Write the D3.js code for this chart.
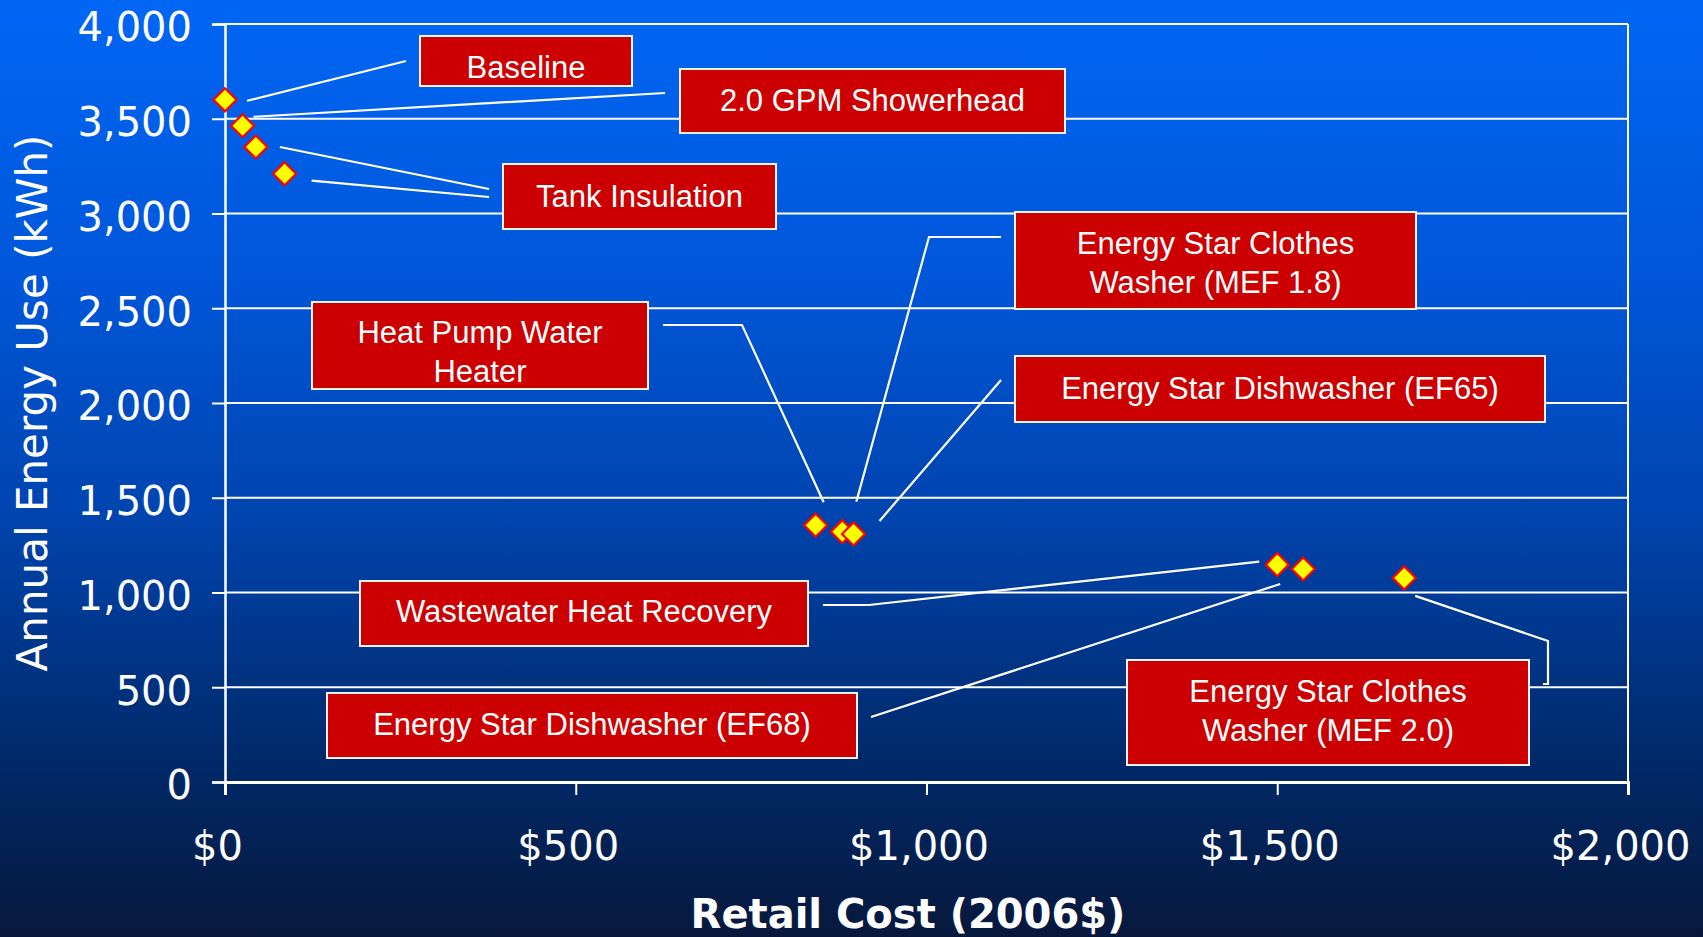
<!DOCTYPE html>
<html>
<head>
<meta charset="utf-8">
<script src="https://cdn.jsdelivr.net/npm/d3@7"></script>
<style>
  html, body { margin: 0; padding: 0; background: #061838; }
  svg { display: block; }
</style>
</head>
<body>
<svg id="chart" width="1703" height="937"></svg>
<script>
// ---- data: retail cost vs. annual energy use of water-heating measures ----
const costs     = [0, 25, 44, 85, 842, 880, 896, 1500, 1537, 1681];
const energyUse = [3600, 3463, 3351, 3210, 1355, 1321, 1309, 1147, 1124, 1077];
const measureNames = [
  "Baseline", "2.0 GPM Showerhead", "Tank Insulation", "Tank Insulation",
  "Heat Pump Water Heater", "Energy Star Clothes Washer (MEF 1.8)",
  "Energy Star Dishwasher (EF65)", "Wastewater Heat Recovery",
  "Energy Star Dishwasher (EF68)", "Energy Star Clothes Washer (MEF 2.0)"
];
const xTickValues = [0, 500, 1000, 1500, 2000];
const yTickValues = [0, 500, 1000, 1500, 2000, 2500, 3000, 3500, 4000];
const xTitle = "Retail Cost (2006$)";
const yTitle = "Annual Energy Use (kWh)";

// callout text, one entry per box
const calloutLines = [
  ["Baseline"],
  ["2.0 GPM Showerhead"],
  ["Tank Insulation"],
  ["Energy Star Clothes", "Washer (MEF 1.8)"],
  ["Heat Pump Water", "Heater"],
  ["Energy Star Dishwasher (EF65)"],
  ["Wastewater Heat Recovery"],
  ["Energy Star Dishwasher (EF68)"],
  ["Energy Star Clothes", "Washer (MEF 2.0)"]
];

// ---- layout ----
const W = 1703, H = 937;
const plot = { left: 225, right: 1628, top: 24, bottom: 782 };

// callout boxes [x0, y0, x1, y1], text shift, and leader lines
// (fixed elbow points, ending next to the data point it names)
const calloutLayout = [
  { box: [420, 36, 632, 86],    shift: 6,  leaders: [{ via: [[406, 61]], to: 0, off: [22, 1] }] },
  { box: [680, 69, 1065, 133],  shift: -1, leaders: [{ via: [[665, 93]], to: 1, off: [11, -9] }] },
  { box: [503, 164, 776, 229],  shift: -1, leaders: [{ via: [[489, 189]], to: 2, off: [24, 0] },
                                                    { via: [[489, 197]], to: 3, off: [27, 7] }] },
  { box: [1015, 212, 1416, 309], shift: 2, leaders: [{ via: [[1001, 237], [929, 237]], to: 5, off: [14, -30] }] },
  { box: [312, 302, 648, 389],  shift: 6,  leaders: [{ via: [[663, 325], [742, 325]], to: 4, off: [8, -23] }] },
  { box: [1015, 356, 1545, 422], shift: -1, leaders: [{ via: [[1001, 380]], to: 6, off: [26, -13] }] },
  { box: [360, 581, 808, 646],  shift: -3, leaders: [{ via: [[823, 605], [869, 605]], to: 7, off: [-18, -3] }] },
  { box: [327, 693, 857, 758],  shift: -2, leaders: [{ via: [[871, 717]], to: 8, off: [-23, 15] }] },
  { box: [1127, 660, 1529, 765], shift: -2, leaders: [{ via: [[1543, 684], [1548, 684], [1548, 641]], to: 9, off: [11, 18] }] }
];

const svg = d3.select("#chart");

// background gradient
const defs = svg.append("defs");
const grad = defs.append("linearGradient")
  .attr("id", "bg").attr("x1", 0).attr("y1", 0).attr("x2", 0).attr("y2", 1);
[[0, "#0066f4"], [0.3, "#0056d8"], [0.55, "#0044ae"], [0.8, "#002a6c"], [1, "#07183c"]]
  .forEach(([o, c]) => grad.append("stop").attr("offset", o).attr("stop-color", c));
svg.append("rect").attr("width", W).attr("height", H).attr("fill", "url(#bg)");

const x = d3.scaleLinear().domain([0, 2000]).range([plot.left, plot.right]);
const y = d3.scaleLinear().domain([0, 4000]).range([plot.bottom, plot.top]);

// horizontal gridlines
svg.append("g")
  .selectAll("line").data(yTickValues.filter(v => v > 0)).join("line")
  .attr("x1", plot.left).attr("x2", plot.right)
  .attr("y1", d => y(d)).attr("y2", d => y(d))
  .attr("stroke", "#ffffff").attr("stroke-width", 2);

// right border of plot area
svg.append("line")
  .attr("x1", plot.right).attr("x2", plot.right)
  .attr("y1", plot.top).attr("y2", plot.bottom)
  .attr("stroke", "#ffffff").attr("stroke-width", 2);

// y axis
const yAxis = svg.append("g")
  .attr("transform", `translate(${plot.left},0)`)
  .call(d3.axisLeft(y).tickValues(yTickValues).tickFormat(d3.format(",")).tickSize(13).tickPadding(20));
yAxis.select(".domain").attr("stroke", "#ffffff").attr("stroke-width", 2.5);
yAxis.selectAll(".tick line").attr("stroke", "#ffffff").attr("stroke-width", 2);
yAxis.selectAll(".tick text")
  .attr("fill", "#ffffff").attr("dy", "0.42em")
  .style("font-family", "'DejaVu Sans', Verdana, sans-serif").style("font-size", "40px");

// x axis
const xAxis = svg.append("g")
  .attr("transform", `translate(0,${plot.bottom})`)
  .call(d3.axisBottom(x).tickValues(xTickValues).tickFormat(d => "$" + d3.format(",")(d)).tickSize(13));
xAxis.select(".domain").attr("stroke", "#ffffff").attr("stroke-width", 3);
xAxis.selectAll(".tick line").attr("stroke", "#ffffff").attr("stroke-width", 2);
xAxis.selectAll(".tick text")
  .attr("fill", "#ffffff").attr("y", 78).attr("dy", 0).attr("dx", -8)
  .style("font-family", "'DejaVu Sans', Verdana, sans-serif").style("font-size", "40px");

// axis titles
svg.append("text")
  .attr("x", 908).attr("y", 928)
  .attr("text-anchor", "middle").attr("fill", "#ffffff")
  .style("font-family", "'DejaVu Sans', Verdana, sans-serif")
  .style("font-size", "40px").style("font-weight", "bold")
  .text(xTitle);

svg.append("text")
  .attr("transform", `translate(47,${(plot.top + plot.bottom) / 2}) rotate(-90)`)
  .attr("text-anchor", "middle").attr("fill", "#ffffff")
  .style("font-family", "'DejaVu Sans', Verdana, sans-serif")
  .style("font-size", "42px")
  .text(yTitle);

// leader lines
const leaderLine = d3.line();
const leaders = svg.append("g");
calloutLayout.forEach(c => {
  c.leaders.forEach(l => {
    const end = [x(costs[l.to]) + l.off[0], y(energyUse[l.to]) + l.off[1]];
    leaders.append("path")
      .attr("d", leaderLine([...l.via, end]))
      .attr("fill", "none").attr("stroke", "#ffffff").attr("stroke-width", 2.2);
  });
});

// callout boxes
const boxes = svg.append("g");
calloutLayout.forEach((c, i) => {
  const [x0, y0, x1, y1] = c.box;
  const g = boxes.append("g");
  g.append("rect")
    .attr("x", x0).attr("y", y0).attr("width", x1 - x0).attr("height", y1 - y0)
    .attr("fill", "#cc0000").attr("stroke", "#f4f4f4").attr("stroke-width", 2);
  const lines = calloutLines[i];
  const cx = (x0 + x1) / 2, cy = (y0 + y1) / 2 + c.shift;
  const lineGap = 38.5, capH = 22;
  const firstBase = cy - (lineGap * (lines.length - 1) + capH) / 2 + capH;
  lines.forEach((t, k) => {
    g.append("text")
      .attr("x", cx).attr("y", firstBase + k * lineGap)
      .attr("text-anchor", "middle").attr("fill", "#ffffff")
      .style("font-family", "'Liberation Sans', Arial, sans-serif")
      .style("font-size", "31px")
      .text(t);
  });
});

// diamond markers
const diamond = d3.symbol().type(d3.symbolDiamond2).size(340);
svg.append("g")
  .selectAll("path").data(costs.map((c, i) => ({ cost: c, kwh: energyUse[i], name: measureNames[i] })))
  .join("path")
  .attr("transform", d => `translate(${x(d.cost)},${y(d.kwh)})`)
  .attr("d", diamond)
  .attr("fill", "#ffff00").attr("stroke", "#ff0000").attr("stroke-width", 2.2)
  .append("title").text(d => d.name);
</script>
</body>
</html>
